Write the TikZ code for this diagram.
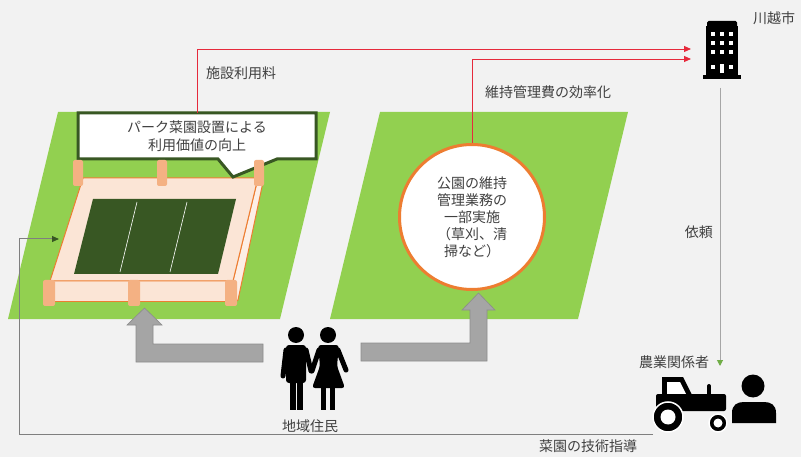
\documentclass[tikz,border=0pt]{standalone}
\usepackage{fontspec}
\newfontfamily\jpfont{Noto Sans CJK JP}
\usetikzlibrary{arrows.meta}

\definecolor{paper}{HTML}{F2F2F2}
\definecolor{lawn}{HTML}{92D050}
\definecolor{bedpeach}{HTML}{FBE5D6}
\definecolor{bedorange}{HTML}{ED7D31}
\definecolor{postorange}{HTML}{F4B183}
\definecolor{soil}{HTML}{385723}
\definecolor{txtgray}{HTML}{404040}
\definecolor{blockgray}{HTML}{A5A5A5}
\definecolor{feered}{HTML}{E62A3C}
\definecolor{leafgreen}{HTML}{70AD47}
\definecolor{linegray}{HTML}{A6A6A6}
\definecolor{darkline}{HTML}{7F7F7F}

\tikzset{
  lbl/.style={font=\jpfont\fontsize{14}{18}\selectfont, text=txtgray, inner sep=0pt},
  feeline/.style={draw=feered, line width=0.9pt, -{Triangle[length=7pt,width=6pt]}},
  post/.style={fill=postorange, rounded corners=2pt},
  blockarrow/.style={fill=blockgray, draw=blockgray!85!black, line width=0.6pt},
  limb/.style={line width=5pt, line cap=round}
}

\begin{document}
\begin{tikzpicture}[x=1pt,y=-1pt]
  \fill[paper] (0,0) rectangle (801,457);

  % lawns
  \fill[lawn] (58,112) -- (330,112) -- (280,319) -- (8,319) -- cycle;
  \fill[lawn] (380,112) -- (628,112) -- (578,319) -- (330,319) -- cycle;

  % raised bed
  \filldraw[fill=bedpeach, draw=bedorange, line width=1pt] (53,280) rectangle (235,302);
  \filldraw[fill=bedpeach!60!white, draw=bedorange, line width=1pt] (258,178) -- (263,182) -- (238,300) -- (235,302) -- (233,281) -- cycle;
  \filldraw[fill=bedpeach, draw=bedorange, line width=1pt] (83,178) -- (258,178) -- (233,281) -- (50,281) -- cycle;
  \fill[soil] (93,199) -- (236,199) -- (218,274) -- (74,274) -- cycle;
  \draw[white, line width=0.6pt] (137,202) -- (120,272) (187,202) -- (170,272);

  % speech bubble
  \filldraw[fill=white, draw=soil, line width=3pt] (78,113) -- (316,113) -- (316,159) -- (277,159) -- (233,177) -- (218,159) -- (78,159) -- cycle;
  \node[lbl, align=center, minimum width=238pt, minimum height=46pt] (callout) at (197,136) {パーク菜園設置による\\利用価値の向上};

  % posts
  \foreach \x in {78,162,259} \fill[post] (\x-5,160) rectangle (\x+5,186);
  \foreach \x in {49,134,231} \fill[post] (\x-6,280) rectangle (\x+6,306);

  \node[circle, draw=bedorange, line width=3pt, fill=white, minimum size=145pt, lbl, align=center,
        font=\jpfont\fontsize{14}{17}\selectfont] (upkeep) at (472,217) {公園の維持\\管理業務の\\一部実施\\（草刈、清\\掃など）};

  % block arrows
  \filldraw[blockarrow] (263,344) -- (153,344) -- (153,325) -- (162,325) -- (144.5,308) -- (127,325) -- (136,325) -- (136,362) -- (263,362) -- cycle;
  \filldraw[blockarrow] (361,343) -- (470,343) -- (470,310) -- (462,310) -- (478.5,293) -- (495,310) -- (487,310) -- (487,361) -- (361,361) -- cycle;

  % money flows
  \coordinate (feein) at (691,49);
  \coordinate (costin) at (691,59);
  \draw[feeline] (callout.north) |- (feein);
  \draw[feeline] (upkeep.north) |- (costin);
  \node[lbl, anchor=west] (fee) at (206,73) {施設利用料};
  \node[lbl, anchor=west] (saving) at (485,92) {維持管理費の効率化};

  % city hall
  \fill[rounded corners=1.5pt] (707,21) rectangle (737,28);
  \fill (706,26) rectangle (738,77);
  \fill (703,75) rectangle (741,79);
  \foreach \x in {713,722,731}
    \foreach \y in {34,43,52}
      \fill[white] (\x-2,\y-2) rectangle (\x+2,\y+2);
  \fill[white] (711,65) rectangle (715,69);
  \fill[white] (729,65) rectangle (733,69);
  \fill[white] (720,64) rectangle (724,73);
  \coordinate (city) at (720,88);
  \node[lbl, anchor=west] (cityname) at (753,18) {川越市};

  \coordinate (farmin) at (720,366);
  \draw[linegray, line width=1pt, -{Triangle[color=leafgreen, length=6pt, width=6pt]}] (city) -- (farmin);
  \node[lbl, anchor=east] (request) at (713,232) {依頼};
  \node[lbl] (farmers) at (674,362) {農業関係者};

  % tractor
  \fill (662,377) -- (683,377) -- (693,397) -- (662,397) -- cycle;
  \fill[white] (667,382) -- (680,382) -- (686,394) -- (667,394) -- cycle;
  \fill[rounded corners=2pt] (656,394) rectangle (726,411);
  \draw[line width=4pt, line cap=round] (709,395) -- (709,386);
  \filldraw[draw=white, line width=1.5pt] (668,417) circle (15);
  \fill[white] (668,417) circle (7.5);
  \filldraw[draw=white, line width=1.5pt] (718,423) circle (9);
  \fill[white] (718,423) circle (4.5);

  % farmer
  \fill (753,386) circle (11.5);
  \fill (732,423) -- (732,413) .. controls (732,405) and (737,402) .. (744,402) -- (764,402)
        .. controls (771,402) and (776,405) .. (776,413) -- (776,423) -- cycle;

  % guidance
  \coordinate (guide) at (653,434);
  \coordinate (bedin) at (59,239);
  \draw[darkline, line width=1pt, -{Triangle[color=soil, length=7pt, width=6pt]}] (guide) -- (19,434) |- (bedin);
  \node[lbl] (guidance) at (588,446) {菜園の技術指導};

  % residents
  \fill (296,335) circle (8);
  \fill[rounded corners=3pt] (286,345) rectangle (306,383);
  \draw[limb] (286,350) -- (283,376);
  \draw[limb] (306,350) -- (311,371);
  \fill (289.5,378) rectangle (295.5,410);
  \fill (297,378) rectangle (303,410);
  \fill (328,335) circle (8);
  \fill[rounded corners=3pt] (318,345) -- (339,345) -- (337,366) -- (345,388) -- (312,388) -- (320,366) -- cycle;
  \draw[limb] (319,350) -- (312,371);
  \draw[limb] (338,350) -- (346,370);
  \fill (321,386) rectangle (326,410);
  \fill (330,386) rectangle (335,410);
  \node[lbl] (residents) at (310,426) {地域住民};
\end{tikzpicture}
\end{document}
